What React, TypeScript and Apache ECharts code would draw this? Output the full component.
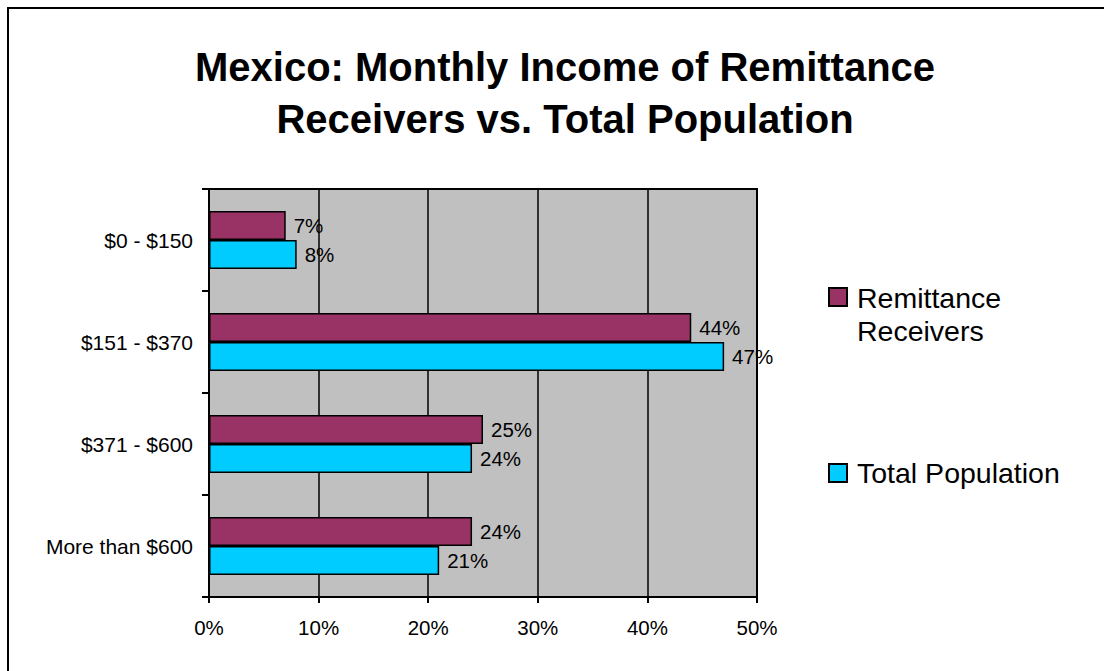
import React, { useEffect, useRef } from "react";
import * as echarts from "echarts";

const categories = ["$0 - $150", "$151 - $370", "$371 - $600", "More than $600"];
const remittanceReceivers = [7, 44, 25, 24];
const totalPopulation = [8, 47, 24, 21];
const seriesNames = ["Remittance Receivers", "Total Population"];
const titleText = "Mexico: Monthly Income of Remittance\nReceivers vs. Total Population";

const FONT = "'Liberation Sans', Arial, sans-serif";
const MAROON = "#993366";
const CYAN = "#00CCFF";

export default function App() {
  const ref = useRef<HTMLDivElement>(null);

  useEffect(() => {
    if (!ref.current) return;
    const chart = echarts.init(ref.current, undefined, { renderer: "svg" });
    const labelStyle = {
      show: true,
      position: "right" as const,
      distance: 8,
      formatter: "{c}%",
      color: "#000",
      fontSize: 20.5,
      fontFamily: FONT,
    };
    chart.setOption({
      animation: false,
      backgroundColor: "#fff",
      title: {
        text: titleText,
        left: 565,
        top: 41,
        padding: 0,
        textAlign: "center",
        textStyle: {
          fontFamily: FONT,
          fontSize: 40,
          fontWeight: "bold",
          color: "#000",
          lineHeight: 52,
        },
      },
      grid: {
        left: 209,
        top: 189,
        right: 347,
        bottom: 74,
        show: true,
        backgroundColor: "#C0C0C0",
        borderColor: "#000",
        borderWidth: 2,
        containLabel: false,
      },
      xAxis: {
        type: "value",
        min: 0,
        max: 50,
        interval: 10,
        axisLine: { show: true, lineStyle: { color: "#000", width: 2 } },
        axisTick: { show: true, length: 6, lineStyle: { color: "#000", width: 2 } },
        axisLabel: {
          formatter: "{value}%",
          fontSize: 20.5,
          fontFamily: FONT,
          color: "#000",
          margin: 20,
        },
        splitLine: { show: true, lineStyle: { color: "#000", width: 1.5 } },
      },
      yAxis: {
        type: "category",
        data: categories,
        inverse: true,
        axisLine: { show: true, lineStyle: { color: "#000", width: 2 } },
        axisTick: { show: true, length: 7, lineStyle: { color: "#000", width: 2 } },
        axisLabel: {
          fontSize: 21,
          fontFamily: FONT,
          color: "#000",
          margin: 16,
        },
        splitLine: { show: false },
      },
      series: [
        {
          name: seriesNames[0],
          type: "bar",
          data: remittanceReceivers,
          barGap: "0%",
          barCategoryGap: "43%",
          itemStyle: { color: MAROON, borderColor: "#000", borderWidth: 1.5 },
          label: labelStyle,
        },
        {
          name: seriesNames[1],
          type: "bar",
          data: totalPopulation,
          barGap: "0%",
          barCategoryGap: "43%",
          itemStyle: { color: CYAN, borderColor: "#000", borderWidth: 1.5 },
          label: labelStyle,
        },
      ],
      graphic: [
        {
          type: "line",
          shape: { x1: 8, y1: 8, x2: 1104, y2: 8 },
          style: { stroke: "#000", lineWidth: 2 },
          silent: true,
        },
        {
          type: "line",
          shape: { x1: 8, y1: 7, x2: 8, y2: 671 },
          style: { stroke: "#000", lineWidth: 2 },
          silent: true,
        },
        {
          type: "rect",
          shape: { x: 829, y: 288, width: 18, height: 18 },
          style: { fill: MAROON, stroke: "#000", lineWidth: 2 },
        },
        {
          type: "text",
          x: 857,
          y: 314,
          style: {
            text: "Remittance\nReceivers",
            fontSize: 28.5,
            fontFamily: FONT,
            fill: "#000",
            lineHeight: 33,
            verticalAlign: "middle",
            align: "left",
          },
        },
        {
          type: "rect",
          shape: { x: 829, y: 464, width: 18, height: 18 },
          style: { fill: CYAN, stroke: "#000", lineWidth: 2 },
        },
        {
          type: "text",
          x: 857,
          y: 473,
          style: {
            text: "Total Population",
            fontSize: 28.5,
            fontFamily: FONT,
            fill: "#000",
            verticalAlign: "middle",
            align: "left",
          },
        },
      ],
    });
    return () => chart.dispose();
  }, []);

  return (
    <div
      ref={ref}
      style={{ position: "absolute", left: 0, top: 0, width: 1104, height: 671, overflow: "hidden" }}
    />
  );
}
